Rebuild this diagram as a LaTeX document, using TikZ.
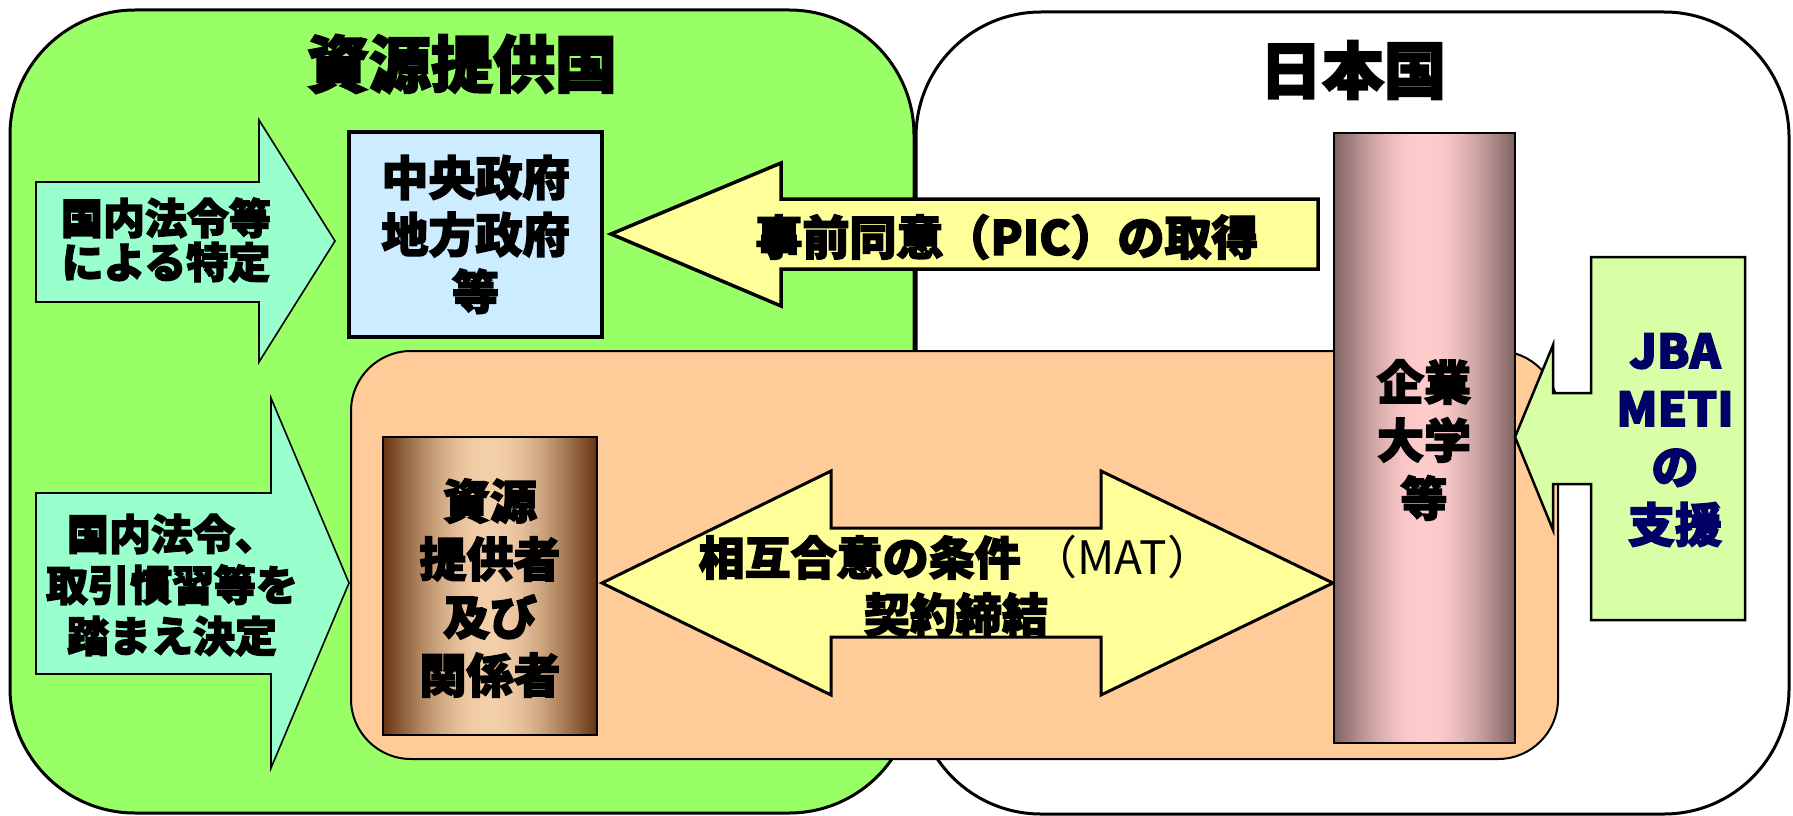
\documentclass[tikz,border=0pt]{standalone}
\usepackage{fontspec}
\setmainfont{Noto Sans CJK JP}[BoldFeatures={FakeBold=3}]
\definecolor{provgreen}{HTML}{99FF66}
\definecolor{peach}{HTML}{FFCC99}
\definecolor{govblue}{HTML}{CCECFF}
\definecolor{mint}{HTML}{99FFCC}
\definecolor{lemon}{HTML}{FFFF99}
\definecolor{supgreen}{HTML}{D9FFA6}
\definecolor{navy}{HTML}{000066}
\definecolor{brdark}{HTML}{663410}
\definecolor{brlight}{HTML}{F4D0AA}
\definecolor{mvdark}{HTML}{7E6262}
\definecolor{mvlight}{HTML}{FFCCCC}
\begin{document}
\begin{tikzpicture}[x=1pt,y=-1pt,
  region/.style={draw=black,line width=3pt,rounded corners=125pt},
  sidearrow/.style={draw=black,line width=1.6pt,fill=mint,line join=miter},
  bigarrow/.style={draw=black,line width=3.5pt,fill=lemon,line join=miter},
  title/.style={inner sep=0pt,font=\bfseries\fontsize{62}{70}\selectfont},
  lbl/.style={inner sep=0pt,align=center,font=\bfseries\fontsize{47}{58}\selectfont},
  smalllbl/.style={inner sep=0pt,align=center,font=\bfseries\fontsize{42}{50}\selectfont},
  barframe/.style={draw=black,line width=2pt,inner sep=0pt},
]
\useasboundingbox (0,0) rectangle (1793,816);
\fill[white] (0,0) rectangle (1793,816);

% regions
\draw[region,fill=provgreen] (10,10) rectangle (914,813);
\draw[region,fill=white] (916,12) rectangle (1789,814);
\draw[line width=2pt,fill=peach,rounded corners=60pt] (351,351) rectangle (1558,759);

\node[title] (provtitle) at (462,64) {資源提供国};
\node[title] (jptitle) at (1353,70) {日本国};

% central government box
\node[draw=black,line width=3.5pt,fill=govblue,minimum width=253pt,minimum height=205pt,
      inner sep=0pt,align=center,font=\bfseries\fontsize{47}{57}\selectfont] (gov) at (475.5,234.5)
      {中央政府\\地方政府\\等};

% left arrows
\draw[sidearrow] (36,182) -- (259,182) -- (259,120) -- (335,241) -- (259,362) -- (259,302) -- (36,302) -- cycle;
\node[smalllbl,font=\bfseries\fontsize{42}{44}\selectfont] (law1) at (166,240) {国内法令等\\による特定};

\draw[sidearrow] (36,493) -- (271,493) -- (271,398) -- (349,583) -- (271,768) -- (271,674) -- (36,674) -- cycle;
\node[smalllbl,font=\bfseries\fontsize{42}{51}\selectfont] (law2) at (172,585) {国内法令、\\取引慣習等を\\踏まえ決定};

% PIC arrow
\draw[bigarrow] (611,234) -- (781,163) -- (781,199) -- (1318,199) -- (1318,269) -- (781,269) -- (781,306) -- cycle;
\node[lbl] (pic) at (1007,237) {事前同意（PIC）の取得};

% resource provider box (horizontal gradient)
\foreach \i in {0,...,106}{
  \pgfmathsetmacro\s{sin((\i+0.5)*1.68224)}
  \pgfmathtruncatemacro\p{100*\s}
  \fill[brlight!\p!brdark] ({383+\i*2},437) rectangle ({383+\i*2+2.6},735);
}
\node[barframe,minimum width=214pt,minimum height=298pt] (prov) at (490,586) {};
\node[lbl] (provtext) at (490,588) {資源\\提供者\\及び\\関係者};

% MAT double arrow
\draw[bigarrow,line width=3pt] (602,583) -- (831,471) -- (831,528) -- (1101,528) -- (1101,471) -- (1333,583)
   -- (1101,695) -- (1101,637) -- (831,637) -- (831,695) -- cycle;
\node[lbl,font=\bfseries\fontsize{46}{57}\selectfont] (mat) at (956,586) {相互合意の条件\ {\mdseries （MAT）}\\契約締結};

% company bar (horizontal gradient)
\foreach \i in {0,...,89}{
  \pgfmathsetmacro\s{sin((\i+0.5)*2)}
  \pgfmathtruncatemacro\p{100*\s}
  \fill[mvlight!\p!mvdark] ({1334+\i*2.011},133) rectangle ({1334+\i*2.011+2.6},743);
}
\node[barframe,minimum width=181pt,minimum height=610pt] (corp) at (1424.5,438) {};
\node[lbl] (corptext) at (1424,440) {企業\\大学\\等};

% support arrow
\draw[draw=black,line width=2.5pt,fill=supgreen,line join=miter]
  (1591,257) -- (1745,257) -- (1745,620) -- (1591,620) -- (1591,484) -- (1553,484) -- (1553,530)
  -- (1515,437) -- (1553,345) -- (1553,393) -- (1591,393) -- cycle;
\node[lbl,text=navy] (support) at (1675,440) {JBA\\METI\\の\\支援};
\end{tikzpicture}
\end{document}
